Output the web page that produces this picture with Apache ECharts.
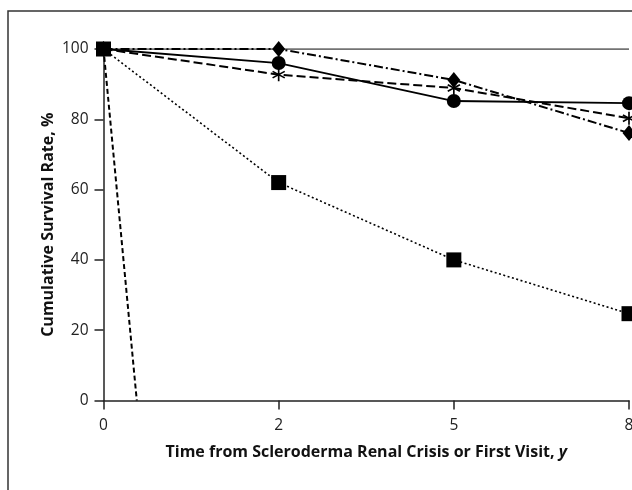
<!DOCTYPE html>
<html><head><meta charset="utf-8">
<script src="https://cdn.jsdelivr.net/npm/echarts@6/dist/echarts.min.js"></script>
<style>html,body{margin:0;padding:0;background:#fff;overflow:hidden}#c{width:632px;height:490px}</style>
</head><body><div id="c"></div>
<script>
// x positions are evenly spaced tick slots (0, 2, 5, 8 years)
const tickLabels = ['0', '2', '5', '8'];
const slots = [0, 1, 2, 3];
const circleVals = [100, 96, 85.2, 84.6];
const diamondVals = [100, 100, 91.2, 76.1];
const asteriskVals = [100, 92.7, 88.9, 80.3];
const squareVals = [100, 62, 40, 24.7];
const earlyDeathX = [0, 0.19];
const earlyDeathVals = [100, 0];
const referenceVals = [100, 100];

const pair = (xs, ys) => xs.map((x, i) => [x, ys[i]]);
const asterisk = 'path://M-1.2,-10L1.2,-10L1.2,10L-1.2,10Z M-9.26,-3.96L-8.06,-6.04L9.26,3.96L8.06,6.04Z M8.06,-6.04L9.26,-3.96L-8.06,6.04L-9.26,3.96Z';
const font = 'Open Sans, Noto Sans, DejaVu Sans, sans-serif';

const chart = echarts.init(document.getElementById('c'), null, {renderer: 'canvas'});
chart.setOption({
  animation: false,
  backgroundColor: '#fff',
  grid: {left: 103.5, top: 49, right: 3, bottom: 89.5, containLabel: false, outerBoundsMode: 'none'},
  graphic: [{
    type: 'polyline', silent: true,
    shape: {points: [[8, 490], [8, 11], [632, 11]]},
    style: {stroke: '#333', lineWidth: 1.5, fill: null}
  }],
  xAxis: {
    type: 'value', min: 0, max: 3, interval: 1,
    axisLine: {show: true, lineStyle: {color: '#222', width: 1.5}},
    axisTick: {show: true, length: 9, lineStyle: {color: '#222', width: 1.5}},
    axisLabel: {color: '#222', fontSize: 15.5, fontFamily: font, margin: 17,
      formatter: v => tickLabels[v] !== undefined ? tickLabels[v] : ''},
    splitLine: {show: false},
    name: 'Time from Scleroderma Renal Crisis or First Visit, {i|y}',
    nameLocation: 'middle', nameGap: 44, nameMoveOverlap: false,
    nameTextStyle: {color: '#111', fontSize: 16, fontWeight: 'bold', fontFamily: font,
      rich: {i: {fontStyle: 'italic', fontWeight: 'bold', fontSize: 16, fontFamily: font, color: '#111'}}}
  },
  yAxis: {
    type: 'value', min: 0, max: 100, interval: 20,
    axisLine: {show: true, lineStyle: {color: '#222', width: 1.5}},
    axisTick: {show: true, length: 9, lineStyle: {color: '#222', width: 1.5}},
    axisLabel: {color: '#222', fontSize: 15.5, fontFamily: font, margin: 15},
    splitLine: {show: false},
    name: 'Cumulative Survival Rate, %',
    nameLocation: 'middle', nameGap: 47, nameRotate: 90, nameMoveOverlap: false,
    nameTextStyle: {color: '#111', fontSize: 16, fontWeight: 'bold', fontFamily: font}
  },
  series: [
    {type: 'line', data: pair([0, 3], referenceVals), symbol: 'none', z: 1,
      lineStyle: {color: '#444', width: 1.5, type: 'solid'}},
    {type: 'line', data: pair(earlyDeathX, earlyDeathVals), symbol: 'none', z: 2,
      lineStyle: {color: '#000', width: 2, type: [5, 3]}},
    {type: 'line', data: pair(slots, squareVals), symbol: 'rect', symbolSize: 15, z: 3,
      itemStyle: {color: '#000'}, lineStyle: {color: '#000', width: 1.6, type: [2, 2.5]}},
    {type: 'line', data: pair(slots, diamondVals), symbol: 'diamond', symbolSize: [13, 16], z: 4,
      itemStyle: {color: '#000'}, lineStyle: {color: '#000', width: 2, type: [9, 3, 2, 3]}},
    {type: 'line', data: pair(slots, asteriskVals), symbol: asterisk, symbolSize: 13, z: 5,
      itemStyle: {color: '#000'}, lineStyle: {color: '#000', width: 2, type: [9, 4]}},
    {type: 'line', data: pair(slots, circleVals), symbol: 'circle', symbolSize: 14, z: 6,
      itemStyle: {color: '#000'}, lineStyle: {color: '#000', width: 1.8, type: 'solid'}}
  ]
});
</script></body></html>
